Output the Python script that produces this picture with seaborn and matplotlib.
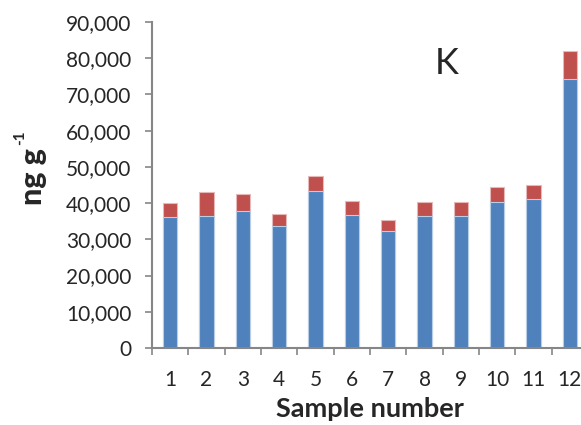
import matplotlib
matplotlib.use("Agg")
import matplotlib.pyplot as plt
import seaborn as sns
import pandas as pd
from matplotlib.ticker import FuncFormatter, FixedLocator

samples = ["1", "2", "3", "4", "5", "6", "7", "8", "9", "10", "11", "12"]
blue_vals = [36200, 36400, 37800, 33700, 43400, 36800, 32200, 36500, 36500, 40400, 41000, 74300]
red_vals = [3700, 6600, 4700, 3400, 4200, 3900, 3200, 3700, 3700, 4000, 3900, 7600]
y_ticks = [0, 10000, 20000, 30000, 40000, 50000, 60000, 70000, 80000, 90000]

sns.set_style("white")
plt.rcParams['font.family'] = ['Lato', 'DejaVu Sans']

df = pd.DataFrame({"sample": samples, "blue": blue_vals, "red": red_vals})
df["total"] = df["blue"] + df["red"]

fig = plt.figure(figsize=(5.81, 4.25), dpi=100)
ax = fig.add_axes([152/581, 1 - 348/425, 436/581, (348 - 22)/425])

sns.barplot(data=df, x="sample", y="total", color="#C0504D", saturation=1,
            width=0.4, edgecolor="#E6B9B8", linewidth=0.8, ax=ax)
sns.barplot(data=df, x="sample", y="blue", color="#4F81BD", saturation=1,
            width=0.4, edgecolor="#B9CDE5", linewidth=0.8, ax=ax)

ax.set_ylim(0, 90000)
ax.set_xlim(-0.5, 11.5)
ax.set_yticks(y_ticks)
ax.yaxis.set_major_formatter(FuncFormatter(lambda v, p: f"{int(v):,}"))
ax.xaxis.set_minor_locator(FixedLocator([i - 0.5 for i in range(13)]))

for s in ["top", "right"]:
    ax.spines[s].set_visible(False)
for s in ["left", "bottom"]:
    ax.spines[s].set_color("#868686")
    ax.spines[s].set_linewidth(1.5)

ax.tick_params(axis="y", which="major", direction="out", length=5, width=1.2,
               color="#868686", labelsize=15, pad=10, left=True)
ax.tick_params(axis="x", which="major", length=0, labelsize=15, pad=16)
ax.tick_params(axis="x", which="minor", direction="out", length=5, width=1.2,
               color="#868686", bottom=True)

ax.set_xlabel("Sample number", fontsize=19.5, fontweight="bold", labelpad=5)
ax.set_ylabel("")
fig.text(33/581, 1 - 177/425, "ng g", rotation=90, fontsize=22, fontweight="black",
         ha="center", va="center")
fig.text(20/581, 1 - 138/425, "-1", rotation=90, fontsize=11, fontweight="bold",
         ha="center", va="center")
fig.text(447/581, 1 - 64/425, "K", fontsize=26, ha="center", va="center")

fig.savefig("out.png", dpi=100)
